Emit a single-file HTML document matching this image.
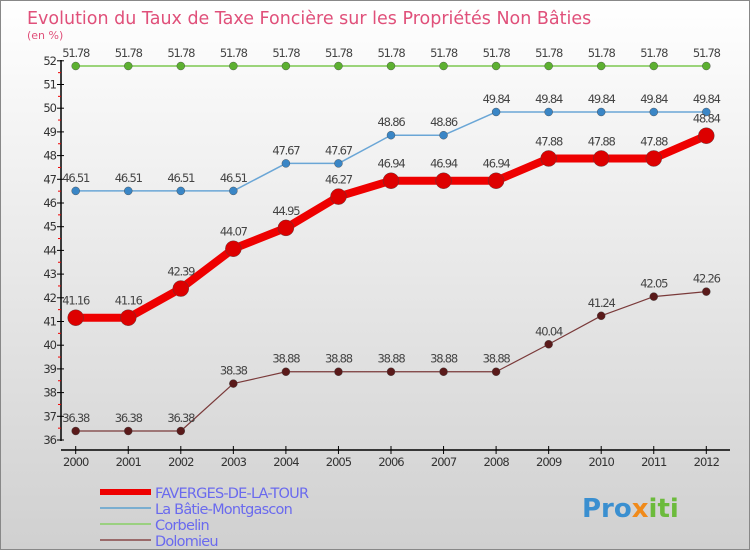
<!DOCTYPE html>
<html><head><meta charset="utf-8"><style>
body{margin:0}
#wrap{width:750px;height:550px;position:relative;overflow:hidden;background:linear-gradient(#ffffff,#d0d0d0);font-family:"DejaVu Sans","Liberation Sans",sans-serif}
</style></head><body>
<div id="wrap">
<svg id="svg" width="750" height="550">
<text x="27" y="24" font-size="17.5" fill="#e0507a">Evolution du Taux de Taxe Foncière sur les Propriétés Non Bâties</text>
<text x="27" y="39" font-size="11" fill="#e0507a">(en %)</text>
<rect x="0.5" y="0.5" width="749" height="549" fill="none" stroke="#888"/>
<g id="axes"></g><g id="series"></g><g id="legend"></g>
<text x="582" y="517" font-size="26" font-weight="bold" fill="#3a8fd0">Pro<tspan fill="#f08a1a">x</tspan><tspan fill="#6cbb3c">iti</tspan></text>
</svg></div>
<script>
const years=[2000,2001,2002,2003,2004,2005,2006,2007,2008,2009,2010,2011,2012];
const faverges=[41.16,41.16,42.39,44.07,44.95,46.27,46.94,46.94,46.94,47.88,47.88,47.88,48.84];
const batie=[46.51,46.51,46.51,46.51,47.67,47.67,48.86,48.86,49.84,49.84,49.84,49.84,49.84];
const corbelin=[51.78,51.78,51.78,51.78,51.78,51.78,51.78,51.78,51.78,51.78,51.78,51.78,51.78];
const dolomieu=[36.38,36.38,36.38,38.38,38.88,38.88,38.88,38.88,38.88,40.04,41.24,42.05,42.26];
const yTicks=[36,37,38,39,40,41,42,43,44,45,46,47,48,49,50,51,52];
const NS="http://www.w3.org/2000/svg";
const x=i=>75.7+i*52.55, y=v=>440-(v-36)*23.7;
function mk(t,a,p){const e=document.createElementNS(NS,t);for(const k in a)e.setAttribute(k,a[k]);p.appendChild(e);return e;}
const ax=document.getElementById('axes');
let e=mk('line',{x1:61,y1:60,x2:61,y2:441,stroke:'#000','stroke-width':1.5},ax);

e=mk('line',{x1:61,y1:450,x2:730,y2:450,stroke:'#000','stroke-width':1.5},ax);

yTicks.forEach((t,i)=>{
 mk('line',{x1:57,y1:y(t),x2:64,y2:y(t),stroke:'#000'},ax);
 if(i<yTicks.length-1) mk('line',{x1:58,y1:y(t+0.5),x2:61,y2:y(t+0.5),stroke:'#e00'},ax);
 e=mk('text',{x:56,y:y(t)+4,'font-size':11.5,'text-anchor':'end',fill:'#333','letter-spacing':'-1'},ax);e.textContent=t;
 
});
years.forEach((yr,i)=>{
 mk('line',{x1:x(i),y1:446,x2:x(i),y2:454,stroke:'#000'},ax);
 e=mk('text',{x:x(i),y:466,'font-size':11.5,'text-anchor':'middle',fill:'#333','letter-spacing':'-1'},ax);e.textContent=yr;
 
});
const sg=document.getElementById('series');
const S=[[corbelin,'#7cc850','#5cb030',1.5,4,'corbelin'],[batie,'#6aa6d6','#3a86c6',1.5,4,'la-batie-montgascon'],[dolomieu,'#7a3a3a','#5a1a1a',1.2,4,'dolomieu'],[faverges,'#ee0000','#dd0000',8,8,'faverges-de-la-tour']];
S.forEach(([d,c,pc,w,r,n])=>{
 e=mk('polyline',{points:d.map((v,i)=>x(i)+','+y(v)).join(' '),fill:'none',stroke:c,'stroke-width':w,'stroke-linejoin':'round'},sg);
 
 d.forEach((v,i)=>{
  e=mk('circle',{cx:x(i),cy:y(v),r:r,fill:pc,stroke:'#444','stroke-width':0.4},sg);
  
  e=mk('text',{x:x(i),y:y(v)-(r+5),'font-size':11.5,'text-anchor':'middle',fill:'#444','letter-spacing':'-1.2'},sg);e.textContent=v.toFixed(2);
  
 });
});
const lg=document.getElementById('legend');
const L=[['FAVERGES-DE-LA-TOUR','#ee0000',6],['La Bâtie-Montgascon','#7aaed0',2],['Corbelin','#9ad080',2],['Dolomieu','#9a6a6a',2]];
L.forEach(([t,c,w],i)=>{
 const yy=492+i*16;
 e=mk('line',{x1:100,y1:yy,x2:151,y2:yy,stroke:c,'stroke-width':w},lg);
 
 e=mk('text',{x:155,y:yy+6,'font-size':14.5,fill:'#6a6aee','letter-spacing':'-0.8'},lg);e.textContent=t;
 
});
</script>
</body></html>
